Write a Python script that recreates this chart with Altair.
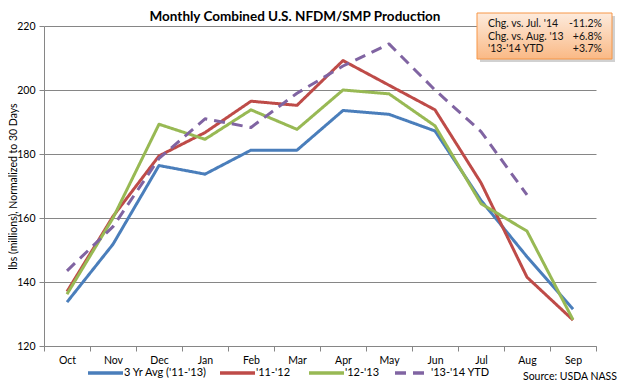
import altair as alt
import pandas as pd

months = ["Oct", "Nov", "Dec", "Jan", "Feb", "Mar", "Apr", "May", "Jun", "Jul", "Aug", "Sep"]
avg_3yr = [133.7, 151.8, 176.4, 173.7, 181.2, 181.2, 193.6, 192.4, 187.2, 165.5, 147.9, 131.5]
y_11_12 = [137.0, 160.5, 179.4, 186.7, 196.5, 195.2, 209.2, 201.5, 193.8, 171.0, 141.5, 128.1]
y_12_13 = [136.2, 160.0, 189.3, 184.6, 193.8, 187.7, 200.0, 198.8, 188.8, 164.5, 155.9, 128.2]
y_13_14 = [143.5, 157.3, 178.6, 191.0, 188.3, 199.0, 207.5, 214.4, 200.0, 187.0, 167.2, None]

series_names = ["3 Yr Avg ('11-'13)", "'11-'12", "'12-'13", "'13-'14 YTD"]
series_colors = ["#4A7EBB", "#BE4B48", "#98B954", "#8064A2"]
series_dashes = [[1, 0], [1, 0], [1, 0], [11, 7]]
series_widths = [3, 3, 3, 4.5]

# legend layout (left edge of each legend entry, px from plot left)
legend_x = [44, 176, 265, 351]
LEG_SYM = 35

inset_labels = ["Chg. vs. Jul. '14", "Chg. vs. Aug. '13", "'13-'14 YTD"]
inset_values = ["-11.2%", "+6.8%", "+3.7%"]

title_text = "Monthly Combined U.S. NFDM/SMP Production"
y_title = "lbs (millions), Normalized to 30 Days"
source_text = "Source: USDA NASS"

FONT = "Lato"

rows = []
for name, vals in zip(series_names, [avg_3yr, y_11_12, y_12_13, y_13_14]):
    for m, v in zip(months, vals):
        if v is not None:
            rows.append({"month": m, "value": v, "series": name})
df = pd.DataFrame(rows)

W, H = 552, 320

color_scale = alt.Scale(domain=series_names, range=series_colors)
dash_scale = alt.Scale(domain=series_names, range=series_dashes)

x_enc = alt.X("month:N", sort=months, bandPosition=0.5,
              scale=alt.Scale(type="band", domain=months, paddingInner=0, paddingOuter=0),
              axis=alt.Axis(title=None, tickBand="extent", labelFontSize=10.5, labelFont=FONT,
                            labelColor="#000", labelAngle=0, labelPadding=4, tickSize=5,
                            tickColor="#868686", domainColor="#868686", grid=False))
y_enc = alt.Y("value:Q", scale=alt.Scale(domain=[120, 220], nice=False, zero=False),
              axis=alt.Axis(title=y_title, values=[120, 140, 160, 180, 200, 220],
                            labelFontSize=10.5, labelFont=FONT, labelColor="#000",
                            labelPadding=4, tickSize=5, tickColor="#868686",
                            domainColor="#868686", gridColor="#868686", grid=True,
                            titleFont=FONT, titleFontSize=10.5, titleFontWeight="normal",
                            titleColor="#000", titleAngle=-90, titleAlign="center",
                            titleBaseline="middle", titleX=-31, titleY=160))

lines = alt.Chart(df).mark_line(strokeCap="butt", strokeJoin="round").encode(
    x=x_enc,
    y=y_enc,
    color=alt.Color("series:N", sort=series_names, scale=color_scale, legend=None),
    strokeDash=alt.StrokeDash("series:N", sort=series_names, scale=dash_scale, legend=None),
    strokeWidth=alt.StrokeWidth("series:N", sort=series_names,
                                scale=alt.Scale(domain=series_names, range=series_widths),
                                legend=None),
)

# legend drawn from the series lists
leg_df = pd.DataFrame({"series": series_names, "lx": legend_x})
leg_df["lx2"] = leg_df["lx"] + LEG_SYM
leg_df["tx"] = leg_df["lx2"] + 1
px_scale = alt.Scale(domain=[0, W], range=[0, W], nice=False, zero=False)
leg_sym = alt.Chart(leg_df).mark_rule(strokeWidth=3.5, strokeCap="butt").encode(
    x=alt.X("lx:Q", scale=px_scale, axis=None), x2="lx2:Q", y=alt.value(347),
    color=alt.Color("series:N", scale=color_scale, legend=None),
    strokeDash=alt.StrokeDash("series:N", scale=dash_scale, legend=None))
leg_txt = alt.Chart(leg_df).mark_text(align="left", baseline="middle", font=FONT, fontSize=11,
                                      color="#000").encode(
    x=alt.X("tx:Q", scale=px_scale, axis=None), y=alt.value(347), text="series:N")
legend = alt.layer(leg_sym, leg_txt)

# inset box
box_df = pd.DataFrame({"k": [0]})
shadow = alt.Chart(box_df).mark_rect(fill="#000000", opacity=0.18).encode(
    x=alt.value(436), x2=alt.value(571), y=alt.value(-10), y2=alt.value(36))
box = alt.Chart(box_df).mark_rect(
    fill={"gradient": "linear", "x1": 0, "y1": 0, "x2": 0, "y2": 1,
          "stops": [{"offset": 0, "color": "#FDEBDD"}, {"offset": 1, "color": "#FAB985"}]},
    stroke="#F79646", strokeWidth=1).encode(
    x=alt.value(433), x2=alt.value(568), y=alt.value(-13), y2=alt.value(33))

inset_df = pd.DataFrame({"label": inset_labels, "val": inset_values, "row": [0, 1, 2]})
inset_y = alt.Y("row:Q", scale=alt.Scale(domain=[0, 2], range=[-2, 23], nice=False, zero=False),
                axis=None)
inset_lab = alt.Chart(inset_df).mark_text(align="left", baseline="middle", font=FONT,
                                          fontSize=10.5, color="#111").encode(
    x=alt.value(444), y=inset_y, text="label:N")
inset_val = alt.Chart(inset_df).mark_text(align="right", baseline="middle", font=FONT,
                                          fontSize=10.5, color="#111").encode(
    x=alt.value(558), y=inset_y, text="val:N")

src = alt.Chart(box_df).mark_text(align="right", baseline="middle", font=FONT, fontSize=10.5,
                                  color="#000").encode(
    x=alt.value(573), y=alt.value(351), text=alt.value(source_text))

ttl = alt.Chart(box_df).mark_text(align="center", baseline="alphabetic", font=FONT, fontSize=13.5,
                                  fontWeight="bold", color="#000").encode(
    x=alt.value(251), y=alt.value(-5), text=alt.value(title_text))

chart = alt.layer(lines, legend, shadow, box, inset_lab, inset_val, src, ttl).resolve_scale(
    x="independent", y="independent"
).properties(
    width=W, height=H,
    padding={"left": 36, "top": 18, "right": 24, "bottom": 36},
    autosize=alt.AutoSizeParams(type="none"),
).configure_view(stroke=None)

chart.save("out.html", embed_options={"renderer": "svg", "actions": False})
